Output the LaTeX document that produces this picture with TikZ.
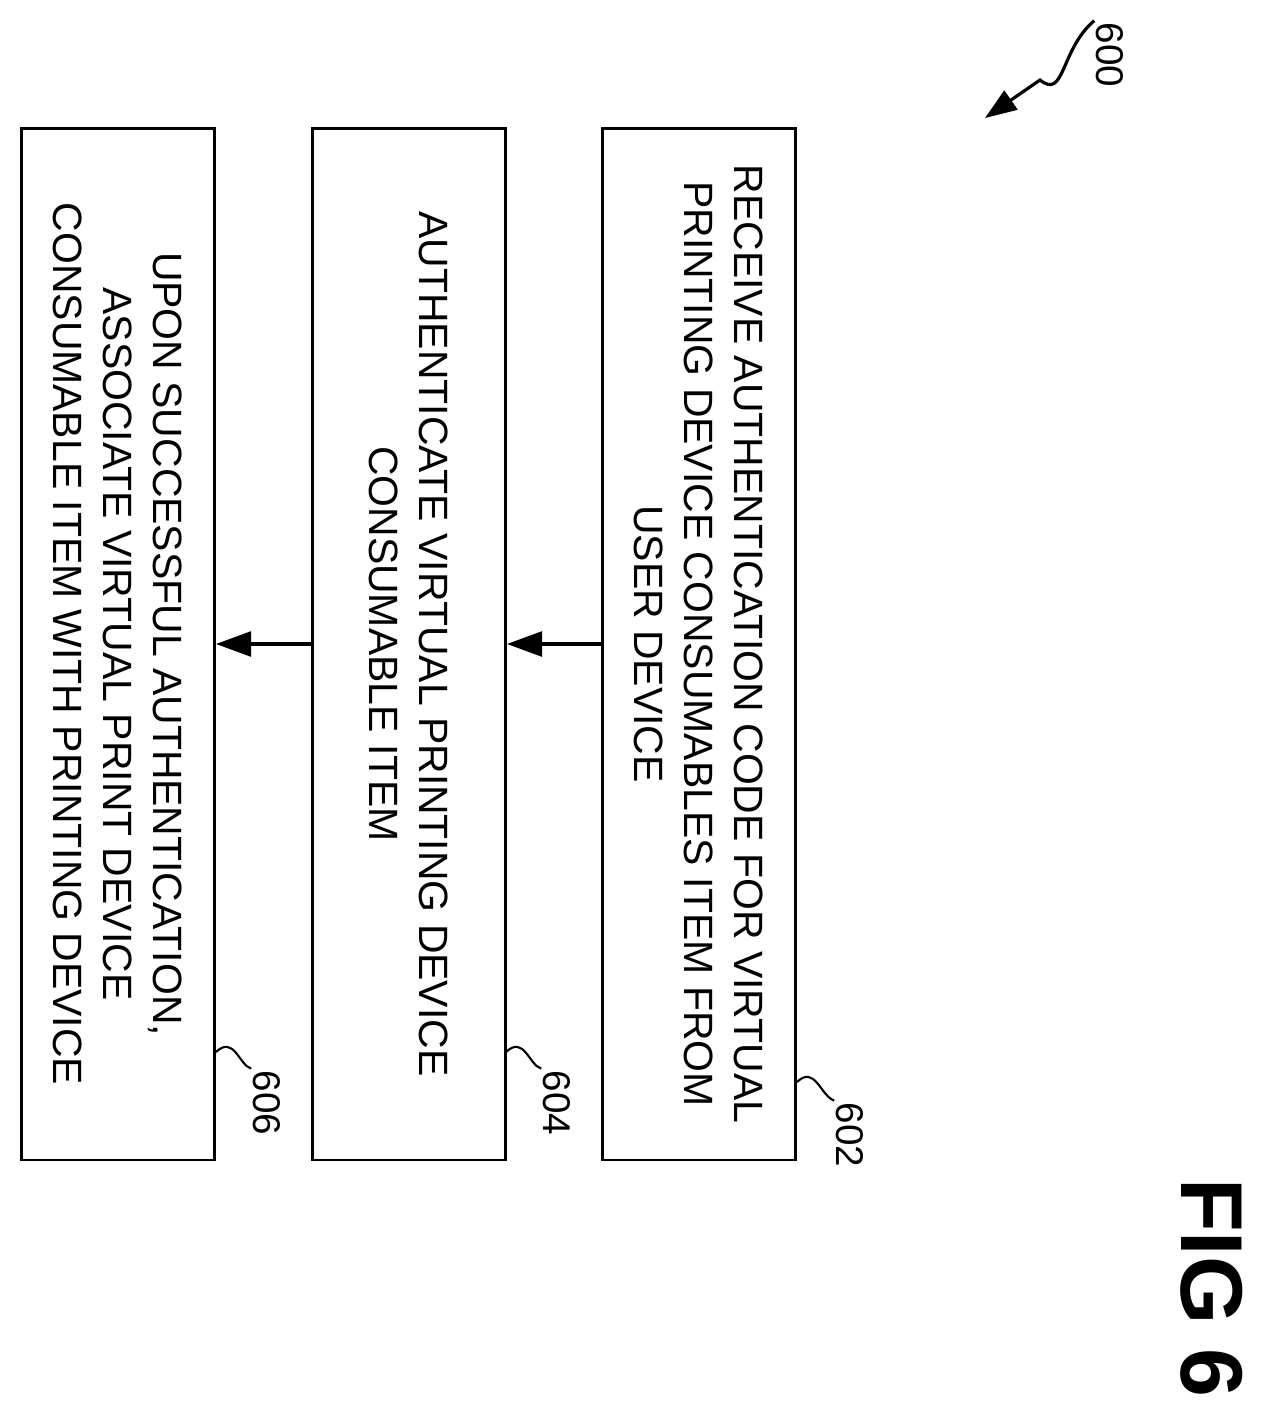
\documentclass[tikz,border=0pt]{standalone}
\usepackage{fontspec}
\setmainfont{Liberation Sans}
\usetikzlibrary{arrows.meta}
\begin{document}
\begin{tikzpicture}[x=0.02cm,y=-0.02cm,
  stepbox/.style={draw,line width=1.6pt,rotate=-90,minimum width=20.64cm,minimum height=3.86cm,
    align=center,font=\fontsize{23.3}{28.5}\selectfont,inner sep=0pt},
  lbl/.style={rotate=-90,font=\fontsize{22}{25}\selectfont,inner sep=1pt},
  flow/.style={line width=2.2pt,-{Triangle[length=20pt,width=14pt]}}]
  \useasboundingbox (0,0) rectangle (1265,1413);
  %Steps
  \node[stepbox] (b602) at (699,644) {RECEIVE AUTHENTICATION CODE FOR VIRTUAL\\PRINTING DEVICE CONSUMABLES ITEM FROM\\USER DEVICE};
  \node[stepbox] (b604) at (409,644) {AUTHENTICATE VIRTUAL PRINTING DEVICE\\CONSUMABLE ITEM};
  \node[stepbox] (b606) at (118,644) {UPON SUCCESSFUL AUTHENTICATION,\\ASSOCIATE VIRTUAL PRINT DEVICE\\CONSUMABLE ITEM WITH PRINTING DEVICE};
  %Arrows
  \draw[flow] (b602.south) -- (b604.north);
  \draw[flow] (b604.south) -- (b606.north);
  %Reference numbers
  \node[lbl] (n602) at (850,1135) {602};
  \node[lbl] (n604) at (557,1103) {604};
  \node[lbl] (n606) at (267,1103) {606};
  \draw[line width=1.2pt] (797,1082) .. controls (815,1065) and (820,1095) .. (n602.south west);
  \draw[line width=1.2pt] (506,1052) .. controls (524,1035) and (529,1065) .. (n604.south west);
  \draw[line width=1.2pt] (216,1052) .. controls (234,1035) and (239,1065) .. (n606.south west);
  %Figure number
  \node[lbl] (n600) at (1110,55) {600};
  \draw[line width=1.8pt,-{Triangle[length=18pt,width=13pt]}] (n600.south west) .. controls (1060,50) and (1065,100) .. (1040,80) -- (985,118);
  \node[rotate=-90,font=\bfseries\fontsize{50}{50}\selectfont] (fig) at (1212,1288) {FIG 6};
\end{tikzpicture}
\end{document}
